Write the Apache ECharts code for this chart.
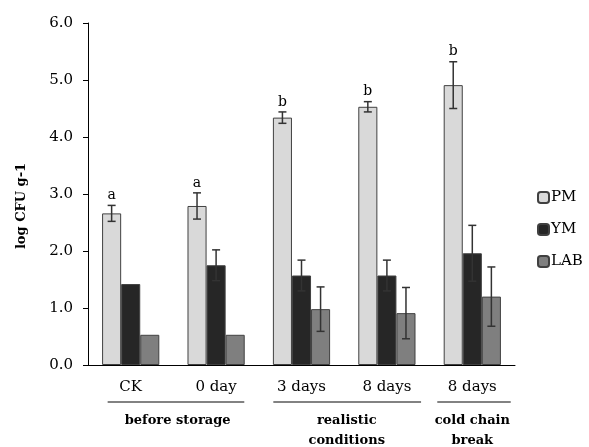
<!DOCTYPE html>
<html>
<head>
<meta charset="utf-8">
<script src="https://cdn.jsdelivr.net/npm/echarts@6/dist/echarts.min.js"></script>
<style>
  html, body { margin: 0; padding: 0; background: #fff; }
  #chart { width: 589px; height: 447px; }
</style>
</head>
<body>
<div id="chart"></div>
<script>
// data
const categories = ['CK', '0 day', '3 days', '8 days', '8 days']
const pm = [2.66, 2.79, 4.34, 4.53, 4.91]
const pmErr = [0.14, 0.23, 0.10, 0.09, 0.41]
const ym = [1.42, 1.75, 1.57, 1.57, 1.96]
const ymErr = [0, 0.27, 0.27, 0.27, 0.49]
const lab = [0.53, 0.53, 0.98, 0.91, 1.20]
const labErr = [0, 0, 0.39, 0.45, 0.52]
const letters = ['a', 'a', 'b', 'b', 'b']
const yTicks = [0, 1, 2, 3, 4, 5, 6]
// groups under the axis: label, span in category units
const groups = [
  { name: 'before storage', from: 0.23, to: 1.83, mid: 1.05 },
  { name: 'realistic\nconditions', from: 2.17, to: 3.90, mid: 3.03 },
  { name: 'cold chain\nbreak', from: 4.09, to: 4.95, mid: 4.5 }
]

const FONT = 'DejaVu Serif'
const GAP = 0.33
const colors = ['#d9d9d9', '#262626', '#7f7f7f']

const chart = echarts.init(document.getElementById('chart'))

function errSeries (idx, vals, errs) {
  return {
    type: 'custom',
    z: 5,
    silent: true,
    data: vals.map((v, i) => [i, v, errs[i]]),
    renderItem (params, api) {
      const i = api.value(0)
      const v = api.value(1)
      const e = api.value(2)
      const band = api.size([1, 0])[0]
      const bw = band * (1 - GAP) / 3
      const c = api.coord([i, v])
      const x = c[0] + (idx - 1) * bw
      const top = api.coord([i, v + e])[1]
      const bot = api.coord([i, v - e])[1]
      const st = { stroke: '#333', lineWidth: 1.5 }
      const kids = []
      if (e > 0) {
        kids.push({ type: 'line', shape: { x1: x, y1: top, x2: x, y2: bot }, style: st })
        kids.push({ type: 'line', shape: { x1: x - 4, y1: top, x2: x + 4, y2: top }, style: st })
        kids.push({ type: 'line', shape: { x1: x - 4, y1: bot, x2: x + 4, y2: bot }, style: st })
      }
      if (idx === 0) {
        kids.push({
          type: 'text',
          style: {
            text: letters[i], x: x, y: top - 3,
            align: 'center', verticalAlign: 'bottom',
            font: '14px "' + FONT + '"', fill: '#000'
          }
        })
      }
      return { type: 'group', children: kids }
    }
  }
}

function barSeries (name, vals, color) {
  return {
    name: name,
    type: 'bar',
    data: vals,
    barGap: 0,
    barCategoryGap: (GAP * 100) + '%',
    itemStyle: { color: color, borderColor: '#404040', borderWidth: 1 }
  }
}

const option = {
  animation: false,
  backgroundColor: '#fff',
  textStyle: { fontFamily: FONT, color: '#000' },
  grid: { left: 88, right: 74, top: 23, bottom: 82 },
  legend: {
    orient: 'vertical',
    left: 537,
    top: 190,
    padding: 0,
    itemWidth: 11,
    itemHeight: 11,
    itemGap: 17,
    data: ['PM', 'YM', 'LAB'],
    textStyle: { fontFamily: FONT, fontSize: 15, color: '#000', padding: [0, 0, 0, -3] }
  },
  xAxis: {
    type: 'category',
    data: categories,
    axisLine: { lineStyle: { color: '#000', width: 1 } },
    axisTick: { length: 5, lineStyle: { color: '#000' } },
    axisLabel: { fontFamily: FONT, fontSize: 15, color: '#000', margin: 15, interval: 0 }
  },
  yAxis: {
    type: 'value',
    min: yTicks[0],
    max: yTicks[yTicks.length - 1],
    interval: 1,
    name: 'log CFU g-1',
    nameLocation: 'middle',
    nameGap: 60,
    nameTextStyle: { fontFamily: FONT, fontSize: 13, fontWeight: 'bold', color: '#000', padding: [0, 24, 0, 0] },
    splitLine: { show: false },
    axisLine: { show: true, lineStyle: { color: '#000', width: 1 } },
    axisTick: { show: true, length: 5, lineStyle: { color: '#000' } },
    axisLabel: { fontFamily: FONT, fontSize: 15, color: '#000', margin: 15, formatter: v => v.toFixed(1) }
  },
  series: [
    barSeries('PM', pm, colors[0]),
    barSeries('YM', ym, colors[1]),
    barSeries('LAB', lab, colors[2]),
    errSeries(0, pm, pmErr),
    errSeries(1, ym, ymErr),
    errSeries(2, lab, labErr)
  ]
}

chart.setOption(option)

// group labels and rules under the category labels
const c0 = chart.convertToPixel({ xAxisIndex: 0 }, 0)
const band = chart.convertToPixel({ xAxisIndex: 0 }, 1) - c0
const left = c0 - band / 2
const gfx = []
groups.forEach(g => {
  gfx.push({
    type: 'line',
    shape: { x1: left + g.from * band, y1: 402, x2: left + g.to * band, y2: 402 },
    style: { stroke: '#595959', lineWidth: 1.5 }
  })
  gfx.push({
    type: 'text',
    style: {
      text: g.name, x: left + g.mid * band, y: 411,
      align: 'center', verticalAlign: 'top', lineHeight: 20,
      font: 'bold 13px "' + FONT + '"', fill: '#000'
    }
  })
})
chart.setOption({ graphic: gfx })
</script>
</body>
</html>
